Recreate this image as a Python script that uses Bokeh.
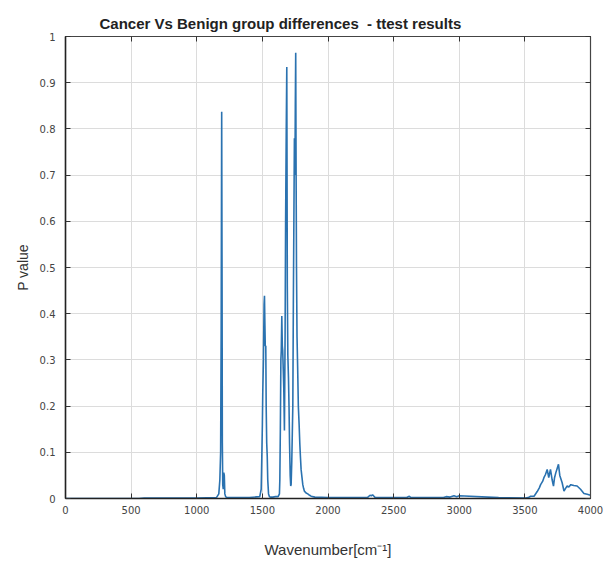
from bokeh.plotting import figure
from bokeh.models import LinearAxis, FixedTicker, Range1d, CustomJSTickFormatter, ColumnDataSource
from bokeh.embed import file_html
from bokeh.resources import INLINE

# Wavenumber (cm^-1) and p-values
wavenumber = [0, 500, 560, 600, 800, 1000, 1150, 1168, 1176, 1182, 1186, 1190, 1193, 1195, 1198, 1202, 1206,
              1210, 1214, 1220, 1230, 1300, 1400, 1480, 1491, 1495, 1500, 1503, 1508, 1513, 1516, 1519,
              1522, 1526, 1529, 1533, 1537, 1541, 1547, 1554, 1565, 1580, 1600, 1620, 1630, 1633, 1637,
              1641, 1644, 1648, 1652, 1655, 1659, 1663, 1668, 1673, 1677, 1682, 1686, 1690, 1694, 1699,
              1703, 1707, 1712, 1716, 1719, 1724, 1728, 1732, 1736, 1740, 1744, 1748, 1751, 1754, 1757,
              1760, 1764, 1769, 1774, 1780, 1785, 1790, 1795, 1802, 1808, 1814, 1820, 1833, 1846, 1860,
              1871, 1900, 2000, 2300, 2320, 2330, 2340, 2350, 2360, 2600, 2620, 2630, 2880, 2900, 2930,
              2960, 2980, 3000, 3300, 3505, 3525, 3544, 3570, 3594, 3610, 3620, 3635, 3645, 3657, 3670,
              3682, 3695, 3708, 3718, 3726, 3736, 3746, 3756, 3766, 3784, 3798, 3810, 3822, 3835, 3850,
              3873, 3898, 3924, 3950, 3975, 4000]
p_value = [0, 0, 0, 0.001, 0.001, 0.001, 0.002, 0.01, 0.04, 0.1, 0.36, 0.837, 0.45, 0.12, 0.03, 0.02,
           0.056, 0.05, 0.01, 0.004, 0.002, 0.002, 0.002, 0.004, 0.02, 0.08, 0.16, 0.23, 0.3, 0.42,
           0.439, 0.38, 0.33, 0.33, 0.2, 0.12, 0.092, 0.04, 0.01, 0.004, 0.003, 0.003, 0.004, 0.004,
           0.01, 0.04, 0.15, 0.3, 0.32, 0.395, 0.33, 0.32, 0.28, 0.24, 0.147, 0.35, 0.6, 0.8, 0.934,
           0.46, 0.31, 0.26, 0.2, 0.12, 0.05, 0.027, 0.03, 0.08, 0.14, 0.2, 0.42, 0.6, 0.78, 0.7, 0.85,
           0.965, 0.7, 0.5, 0.35, 0.28, 0.2, 0.16, 0.12, 0.09, 0.063, 0.045, 0.03, 0.022, 0.016, 0.012,
           0.01, 0.007, 0.005, 0.003, 0.002, 0.002, 0.007, 0.006, 0.008, 0.005, 0.002, 0.002, 0.005,
           0.002, 0.002, 0.004, 0.003, 0.006, 0.004, 0.006, 0.002, 0.001, 0.002, 0.005, 0.005, 0.015,
           0.023, 0.03, 0.037, 0.045, 0.052, 0.063, 0.045, 0.063, 0.04, 0.027, 0.045, 0.056, 0.065,
           0.074, 0.05, 0.034, 0.016, 0.022, 0.027, 0.025, 0.03, 0.028, 0.027, 0.02, 0.011, 0.009,
           0.007, 0.005]

x_ticks = [0, 500, 1000, 1500, 2000, 2500, 3000, 3500, 4000]
y_ticks = [0, 0.1, 0.2, 0.3, 0.4, 0.5, 0.6, 0.7, 0.8, 0.9, 1]

title_text = "Cancer Vs Benign group differences \u00a0- ttest results"
x_label = "Wavenumber[cm\u207b\u00b9]"
y_label = "P value"

src = ColumnDataSource(dict(x=wavenumber, y=p_value))

p = figure(width=605, height=560, output_backend="svg", toolbar_location=None,
           x_range=Range1d(0, 4000), y_range=Range1d(0, 1),
           min_border_left=65, min_border_right=15, min_border_top=36, min_border_bottom=61,
           x_axis_location=None, y_axis_location=None)

p.title.text = title_text
p.title.align = "left"
p.title.offset = 34
p.title.text_font = "Liberation Sans"
p.title.text_font_style = "bold"
p.title.text_font_size = "15px"
p.title.text_color = "#222222"
p.title.standoff = 10

p.line("x", "y", source=src, line_color="#2a72b0", line_width=1.6)

font = "DejaVu Sans"

xa = LinearAxis(ticker=FixedTicker(ticks=x_ticks), axis_label=x_label)
ya = LinearAxis(ticker=FixedTicker(ticks=y_ticks), axis_label=y_label,
                formatter=CustomJSTickFormatter(code="return tick==0||tick==1 ? tick.toFixed(0) : tick.toFixed(1);"))
for ax in (xa, ya):
    ax.major_tick_in = 5
    ax.major_tick_out = 0
    ax.minor_tick_line_color = None
    ax.axis_line_color = "#222222"
    ax.axis_line_width = 1.5
    ax.major_tick_line_color = "#333333"
    ax.major_label_text_font = font
    ax.major_label_text_font_size = "10px"
    ax.major_label_text_color = "#444444"
    ax.axis_label_text_font = "Liberation Sans"
    ax.axis_label_text_font_style = "normal"
    ax.axis_label_text_color = "#333333"
xa.axis_label_text_font_size = "15px"
ya.axis_label_text_font_size = "14px"
xa.major_label_standoff = 7
xa.axis_label_standoff = 24
ya.major_label_standoff = 10
ya.axis_label_standoff = 6
p.add_layout(xa, "below")
p.add_layout(ya, "left")

for loc, ticks in (("above", x_ticks), ("right", y_ticks)):
    ax = LinearAxis(ticker=FixedTicker(ticks=ticks),
                    formatter=CustomJSTickFormatter(code="return '';"))
    ax.major_tick_in = 5
    ax.major_tick_out = 0
    ax.minor_tick_line_color = None
    ax.axis_line_color = "#444444"
    ax.major_tick_line_color = "#333333"
    ax.major_label_standoff = 0
    ax.major_label_text_font_size = "1px"
    p.add_layout(ax, loc)

p.xgrid.ticker = FixedTicker(ticks=x_ticks)
p.ygrid.ticker = FixedTicker(ticks=y_ticks)
p.grid.grid_line_color = "#dcdcdc"
p.grid.grid_line_width = 1
p.outline_line_color = "#444444"
p.outline_line_width = 1.2

open("out.html", "w").write(file_html(p, INLINE))
